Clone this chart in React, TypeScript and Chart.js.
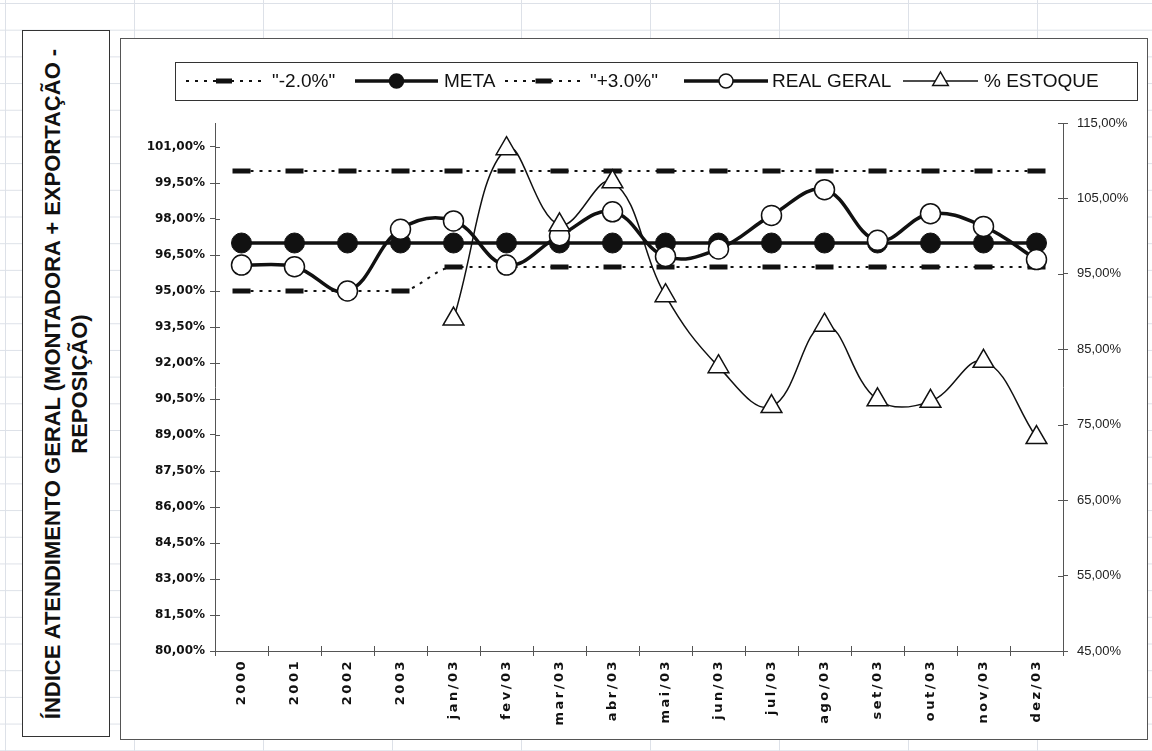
import React, { useEffect, useRef } from 'react';
import { Chart, registerables } from 'chart.js';

Chart.register(...registerables);

const CATEGORIES = ['2000', '2001', '2002', '2003', 'jan/03', 'fev/03', 'mar/03', 'abr/03', 'mai/03', 'jun/03', 'jul/03', 'ago/03', 'set/03', 'out/03', 'nov/03', 'dez/03'];
const MINUS_2 = [95, 95, 95, 95, 96, 96, 96, 96, 96, 96, 96, 96, 96, 96, 96, 96];
const META = [97, 97, 97, 97, 97, 97, 97, 97, 97, 97, 97, 97, 97, 97, 97, 97];
const PLUS_3 = [100, 100, 100, 100, 100, 100, 100, 100, 100, 100, 100, 100, 100, 100, 100, 100];
const REAL_GERAL = [96.08, 96.01, 95.0, 97.57, 97.92, 96.08, 97.3, 98.3, 96.44, 96.75, 98.15, 99.22, 97.11, 98.22, 97.69, 96.31];
const ESTOQUE = [null, null, null, null, 89.0, 111.6, 101.5, 107.2, 92.1, 82.7, 77.4, 88.2, 78.3, 78.1, 83.4, 73.3];
const LEFT_TICKS = [80, 81.5, 83, 84.5, 86, 87.5, 89, 90.5, 92, 93.5, 95, 96.5, 98, 99.5, 101];
const RIGHT_TICKS = [45, 55, 65, 75, 85, 95, 105, 115];
const SERIES_LABELS = ['"-2.0%"', 'META', '"+3.0%"', 'REAL GERAL', '% ESTOQUE'];

const INK = '#111';
const AXIS = '#555';

// legend layout (canvas coords): line start, line end, text x
const LEGEND_ITEMS = [
  [65, 141, 151],
  [234, 317, 323],
  [384, 461, 469],
  [563, 647, 651],
  [782, 857, 863],
];

const fmt = (v: number) => v.toFixed(2).replace('.', ',') + '%';

function drawMarker(ctx: CanvasRenderingContext2D, style: string, x: number, y: number, r: number, fill: string, lw: number) {
  ctx.save();
  ctx.setLineDash([]);
  ctx.strokeStyle = INK;
  ctx.fillStyle = fill;
  ctx.lineWidth = lw;
  ctx.beginPath();
  if (style === 'line') {
    ctx.moveTo(x - r, y);
    ctx.lineTo(x + r, y);
    ctx.stroke();
  } else if (style === 'triangle') {
    ctx.moveTo(x, y - r);
    ctx.lineTo(x + r * 0.866, y + r * 0.5);
    ctx.lineTo(x - r * 0.866, y + r * 0.5);
    ctx.closePath();
    ctx.fill();
    ctx.stroke();
  } else {
    ctx.arc(x, y, r, 0, Math.PI * 2);
    ctx.fill();
    ctx.stroke();
  }
  ctx.restore();
}

const boxLegend = {
  id: 'boxLegend',
  afterDraw(chart: any) {
    const ctx: CanvasRenderingContext2D = chart.ctx;
    ctx.save();
    ctx.strokeStyle = '#333';
    ctx.lineWidth = 1;
    ctx.strokeRect(54.5, 23.5, 962, 38);
    const cy = 42;
    chart.data.datasets.forEach((ds: any, i: number) => {
      const [x1, x2, tx] = LEGEND_ITEMS[i];
      ctx.save();
      ctx.strokeStyle = INK;
      ctx.lineWidth = ds.borderWidth;
      ctx.setLineDash(ds.borderDash || []);
      ctx.beginPath();
      ctx.moveTo(x1, cy);
      ctx.lineTo(x2, cy);
      ctx.stroke();
      ctx.restore();
      const mx = (x1 + x2) / 2;
      const style = ds.pointStyle || 'circle';
      const r = style === 'line' ? 8 : style === 'triangle' ? 9 : 7;
      drawMarker(ctx, style, mx, cy, r, ds.pointBackgroundColor, style === 'line' ? 5 : 1.5);
      ctx.fillStyle = INK;
      ctx.font = '19px "Liberation Sans", Arial, sans-serif';
      ctx.textBaseline = 'middle';
      ctx.textAlign = 'left';
      ctx.fillText(ds.label, tx, cy + 1);
    });
    ctx.restore();
  },
};

const crossTicks = {
  id: 'crossTicks',
  beforeDatasetsDraw(chart: any) {
    const { ctx, chartArea: a, scales } = chart;
    ctx.save();
    ctx.strokeStyle = AXIS;
    ctx.lineWidth = 1;
    ctx.beginPath();
    scales.y.ticks.forEach((t: any) => {
      const y = Math.round(scales.y.getPixelForValue(t.value)) + 0.5;
      ctx.moveTo(a.left, y);
      ctx.lineTo(a.left + 5, y);
    });
    scales.y1.ticks.forEach((t: any) => {
      const y = Math.round(scales.y1.getPixelForValue(t.value)) + 0.5;
      ctx.moveTo(a.right - 5, y);
      ctx.lineTo(a.right, y);
    });
    const n = scales.x.ticks.length;
    for (let i = 1; i < n; i++) {
      const x = Math.round(a.left + ((a.right - a.left) * i) / n) + 0.5;
      ctx.moveTo(x, a.bottom - 5);
      ctx.lineTo(x, a.bottom);
    }
    ctx.stroke();
    ctx.restore();
  },
};

function ChartCanvas() {
  const ref = useRef<HTMLCanvasElement | null>(null);
  useEffect(() => {
    if (!ref.current) return;
    const dotted = { borderColor: INK, borderWidth: 2, borderDash: [3, 6], tension: 0.4, cubicInterpolationMode: 'monotone', pointStyle: 'line', pointRadius: 9, pointBorderWidth: 5, pointBorderColor: INK, pointBackgroundColor: INK, yAxisID: 'y' };
    const chart = new Chart(ref.current, {
      type: 'line',
      data: {
        labels: CATEGORIES,
        datasets: [
          { ...dotted, label: SERIES_LABELS[0], data: MINUS_2, order: 5 } as any,
          { label: SERIES_LABELS[1], data: META, borderColor: INK, borderWidth: 3.5, pointStyle: 'circle', pointRadius: 10, pointBackgroundColor: INK, pointBorderColor: INK, pointBorderWidth: 1, yAxisID: 'y', order: 4 },
          { ...dotted, label: SERIES_LABELS[2], data: PLUS_3, order: 3 } as any,
          { label: SERIES_LABELS[3], data: REAL_GERAL, borderColor: INK, borderWidth: 3.5, tension: 0.4, pointStyle: 'circle', pointRadius: 10, pointBackgroundColor: '#fff', pointBorderColor: INK, pointBorderWidth: 1.5, yAxisID: 'y', order: 2 },
          { label: SERIES_LABELS[4], data: ESTOQUE, borderColor: INK, borderWidth: 1.5, tension: 0.4, pointStyle: 'triangle', pointRadius: 12, pointBackgroundColor: '#fff', pointBorderColor: INK, pointBorderWidth: 1.5, yAxisID: 'y1', order: 1 },
        ],
      },
      options: {
        responsive: false,
        animation: false,
        events: [],
        devicePixelRatio: 1,
        layout: { padding: { left: 14, right: 14, top: 84, bottom: 8 } },
        plugins: { legend: { display: false }, tooltip: { enabled: false }, title: { display: false } },
        scales: {
          x: {
            type: 'category',
            offset: true,
            grid: { display: true, drawOnChartArea: false, drawTicks: true, tickLength: 5, color: AXIS, offset: true },
            border: { display: true, color: AXIS, width: 1 },
            ticks: { autoSkip: false, minRotation: 90, maxRotation: 90, padding: 3, color: INK, font: { family: 'DejaVu Sans', weight: 'bold', size: 13 } },
            afterFit: (s: any) => { s.height = 80; },
          },
          y: {
            position: 'left',
            min: 80,
            max: 102,
            afterBuildTicks: (s: any) => { s.ticks = LEFT_TICKS.map((v) => ({ value: v })); },
            grid: { drawOnChartArea: false, tickLength: 5, color: AXIS },
            border: { display: true, color: AXIS, width: 1 },
            ticks: { padding: 5, color: INK, font: { family: 'DejaVu Sans', weight: 'bold', size: 12 }, callback: (v: any) => fmt(Number(v)) },
            afterFit: (s: any) => { s.width = 80; },
          },
          y1: {
            position: 'right',
            min: 45,
            max: 115,
            afterBuildTicks: (s: any) => { s.ticks = RIGHT_TICKS.map((v) => ({ value: v })); },
            grid: { drawOnChartArea: false, tickLength: 5, color: AXIS },
            border: { display: true, color: AXIS, width: 1 },
            ticks: { padding: 9, color: '#222', font: { family: 'Liberation Sans', size: 13 }, callback: (v: any) => fmt(Number(v)) },
            afterFit: (s: any) => { s.width = 70; },
          },
        },
      } as any,
      plugins: [crossTicks, boxLegend],
    });
    const xs: any = chart.scales.x;
    const orig = xs.drawLabels.bind(xs);
    xs.drawLabels = (area: any) => {
      const c: any = chart.ctx;
      c.save();
      c.letterSpacing = '2.5px';
      orig(area);
      c.restore();
    };
    chart.draw();
    return () => chart.destroy();
  }, []);
  return <canvas ref={ref} width={1026} height={700} style={{ display: 'block', width: 1026, height: 700 }} />;
}

export default function App() {
  const grid = '#dde1e8';
  return (
    <div
      style={{
        position: 'fixed',
        left: 0,
        top: 0,
        width: 1152,
        height: 751,
        overflow: 'hidden',
        background: '#fff',
        backgroundImage: `linear-gradient(to right, ${grid} 1px, transparent 1px), linear-gradient(to bottom, ${grid} 1px, transparent 1px)`,
        backgroundSize: '129px 26.7px',
        backgroundPosition: '5px 3px',
      }}
    >
      <div
        style={{
          position: 'absolute',
          left: 22,
          top: 30,
          width: 88,
          height: 707,
          boxSizing: 'border-box',
          border: '1.5px solid #333',
          background: '#fff',
        }}
      >
        <div
          style={{
            position: 'absolute',
            left: '50%',
            top: '50%',
            width: 700,
            transform: 'translate(-50%, -50%) rotate(-90deg)',
            textAlign: 'center',
            fontFamily: '"Liberation Sans", Arial, sans-serif',
            fontWeight: 'bold',
            fontSize: 22,
            lineHeight: '27px',
            color: '#111',
          }}
        >
          <div style={{ whiteSpace: 'nowrap' }}>ÍNDICE ATENDIMENTO GERAL (MONTADORA + EXPORTAÇÃO -</div>
          <div style={{ whiteSpace: 'nowrap' }}>REPOSIÇÃO)</div>
        </div>
      </div>
      <div
        style={{
          position: 'absolute',
          left: 120,
          top: 38,
          width: 1028,
          height: 702,
          boxSizing: 'border-box',
          border: '1px solid #555',
          background: '#fff',
        }}
      >
        <ChartCanvas />
      </div>
    </div>
  );
}
